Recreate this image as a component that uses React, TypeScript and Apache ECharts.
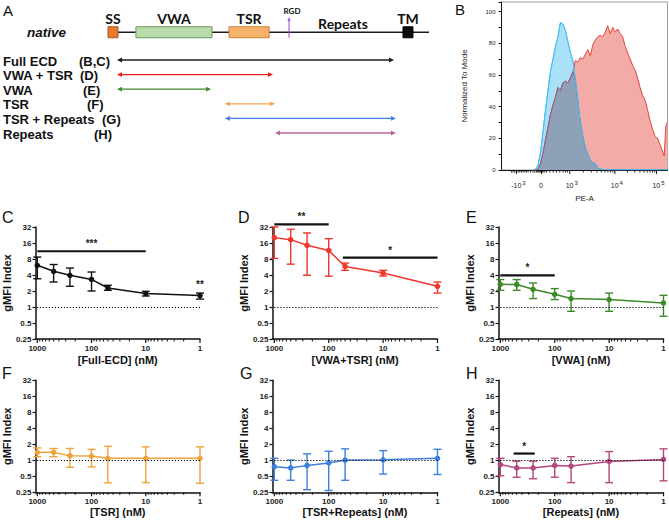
import { useEffect, useRef } from 'react';
import * as echarts from 'echarts';

const FONT = '"Liberation Sans", Arial, Helvetica, sans-serif';
const DOMAIN_FONT = 'Lato, "Open Sans", sans-serif';

// ---------- Panel A : domain schematic (schematic units 0-100 along the protein) ----------
const domainNames = ['SS', 'VWA', 'TSR', 'TM'];
const domainStart = [0, 8.7, 37.7, 91.9];
const domainEnd = [3.1, 32.4, 50.2, 95.0];
const backboneExtent = [3.1, 100];
const rgdPosition = [56.4];
const constructNames = ['Full ECD', 'VWA + TSR', 'VWA', 'TSR', 'TSR + Repeats', 'Repeats'];
const constructPanels = ['(B,C)', '(D)', '(E)', '(F)', '(G)', '(H)'];
const constructStart = [2.8, 2.8, 2.8, 36.4, 36.4, 52.0];
const constructEnd = [89.1, 51.4, 32.1, 52.0, 89.7, 89.7];

// ---------- Panel B : PE-A histogram (display channel 0-1000) ----------
const peChannel = [190, 205, 220, 235, 250, 265, 280, 295, 310, 325, 340, 355, 370, 385, 400, 415, 430, 445, 460, 475, 490, 505, 520, 535, 550, 565, 580, 595, 610, 625, 640, 655, 670, 685, 700, 715, 730, 745, 760, 775, 790, 805, 820, 835, 850, 865, 880, 895, 910, 925, 940, 955, 970, 980, 990, 1000];
const isotypeCount = [0, 0.5, 3, 11, 24, 38, 50, 62, 70, 78, 84, 93, 92, 88, 81, 74, 69, 57, 43, 30, 21, 14, 10, 6, 4.5, 4, 1, 0.5, 0.3, 0.2, 0.2, 0.2, 0.2, 0.2, 0.2, 0.2, 0.2, 0.2, 0.2, 0.2, 0.2, 0.2, 0.2, 0.2, 0.2, 0.2, 0.2, 0.2, 0.2, 0.2, 0.2, 0.2, 0.2, 0.2, 0.2, 0.2];
const fullEcdCount = [0, 0, 0.5, 4, 11, 19, 27, 35, 41, 46, 52, 50, 55, 56, 55, 58, 62, 69, 68, 71, 70, 73, 76, 72, 79, 82, 84, 85, 84, 87, 91, 86, 90, 87, 89, 86, 84, 78, 74, 70, 66, 63, 58, 52, 47, 44, 38, 31, 26, 21, 20, 16, 12, 9, 28, 30];
const peTickChannel = [90, 241, 411, 683, 934];
const peTickBase = ['-10', '0', '10', '10', '10'];
const peTickExponent = ['3', '', '3', '4', '5'];
const peMinorChannel = [60, 70, 80, 100, 110, 120, 130, 140, 150, 160, 175, 190, 200, 210, 218, 225, 231, 236, 246, 251, 260, 271, 291, 311, 331, 351, 371, 385, 397, 493, 541, 575, 601, 623, 641, 657, 671, 759, 803, 834, 858, 878, 895, 910, 923];

// ---------- Panels C-H : gMFI index vs concentration ----------
const concentrations = [1000, 500, 250, 100, 50, 10, 1];
const concMajorTicks = [1, 10, 100, 1000];
const concMinorTicks = [2, 3, 4, 5, 6, 7, 8, 9, 20, 30, 40, 50, 60, 70, 80, 90, 200, 300, 400, 500, 600, 700, 800, 900];

const fullEcdMean = [6.1, 4.7, 3.95, 3.3, 2.28, 1.79, 1.64];
const fullEcdLow = [3.4, 2.95, 2.45, 2.0, 2.06, 1.61, 1.41];
const fullEcdHigh = [8.7, 6.3, 5.4, 4.55, 2.56, 1.97, 1.83];
const fullEcdSig: [number, number, number, string][] = [[1000, 10, 11.2, '***'], [1, 1, 1.95, '**']];

const vwaTsrMean = [20.2, 18.5, 14.5, 11.6, 5.8, 4.36, 2.45];
const vwaTsrLow = [8.2, 6.4, 3.95, 3.8, 4.9, 3.83, 1.83];
const vwaTsrHigh = [32, 29, 24.7, 19.3, 6.7, 4.9, 2.95];
const vwaTsrSig: [number, number, number, string][] = [[1000, 100, 36, '**'], [55, 1, 8.5, '*']];

const vwaMean = [2.67, 2.65, 2.15, 1.73, 1.44, 1.38, 1.19];
const vwaLow = [2.06, 2.06, 1.44, 1.38, 0.83, 0.83, 0.67];
const vwaHigh = [3.28, 3.28, 2.83, 2.22, 2.0, 1.83, 1.66];
const vwaSig: [number, number, number, string][] = [[1000, 100, 3.95, '*']];

const tsrMean = [1.41, 1.41, 1.22, 1.2, 1.09, 1.09, 1.09];
const tsrLow = [1.17, 1.17, 0.74, 0.75, 0.376, 0.38, 0.37];
const tsrHigh = [1.71, 1.67, 1.67, 1.61, 1.83, 1.79, 1.79];
const tsrSig: [number, number, number, string][] = [];

const tsrRepeatsMean = [0.76, 0.72, 0.8, 0.89, 1.01, 1.02, 1.09];
const tsrRepeatsLow = [0.42, 0.42, 0.28, 0.27, 0.42, 0.55, 0.54];
const tsrRepeatsHigh = [1.09, 1.01, 1.32, 1.48, 1.64, 1.52, 1.61];
const tsrRepeatsSig: [number, number, number, string][] = [];

const repeatsMean = [0.83, 0.72, 0.72, 0.8, 0.78, 0.95, 1.04];
const repeatsLow = [0.51, 0.48, 0.45, 0.48, 0.38, 0.38, 0.41];
const repeatsHigh = [1.09, 0.96, 0.96, 1.09, 1.17, 1.46, 1.64];
const repeatsSig: [number, number, number, string][] = [[569, 233, 1.34, '*']];

function buildOption() {
  const grid: any[] = [];
  const xAxis: any[] = [];
  const yAxis: any[] = [];
  const series: any[] = [];
  const graphic: any[] = [];

  // ================= Panel A =================
  const rowPx = 14.6;
  const nativeRow = -1.9;
  grid.push({ left: 108, top: 60 - 2 * rowPx, width: 321, height: 8 * rowPx });
  xAxis.push({ gridIndex: 0, type: 'value', min: 0, max: 100, show: false, splitLine: { show: false } });
  yAxis.push({ gridIndex: 0, type: 'value', min: -2, max: 6, inverse: true, show: false, splitLine: { show: false } });

  series.push({
    type: 'custom', xAxisIndex: 0, yAxisIndex: 0, silent: true, clip: false,
    data: [[backboneExtent[0], backboneExtent[1], nativeRow]],
    encode: { x: [0, 1], y: 2 },
    renderItem: (_p: any, api: any) => {
      const a = api.coord([api.value(0), api.value(2)]);
      const b = api.coord([api.value(1), api.value(2)]);
      return { type: 'line', shape: { x1: a[0], y1: a[1], x2: b[0], y2: b[1] }, style: { stroke: '#1a1a1a', lineWidth: 1.4 } };
    },
  });

  const domainFill = ['#e8792f', '#b9dcaa', '#f6b16b', '#0a0a0a'];
  const domainStroke = ['#a9541c', '#6b9a5d', '#c98236', '#000000'];
  series.push({
    type: 'custom', xAxisIndex: 0, yAxisIndex: 0, silent: true, clip: false,
    data: domainNames.map((_, i) => [domainStart[i], domainEnd[i], nativeRow]),
    encode: { x: [0, 1], y: 2 },
    renderItem: (p: any, api: any) => {
      const i = p.dataIndex;
      const a = api.coord([api.value(0), api.value(2)]);
      const b = api.coord([api.value(1), api.value(2)]);
      const h = 11;
      return {
        type: 'group',
        children: [
          { type: 'rect', shape: { x: a[0], y: a[1] - h / 2, width: b[0] - a[0], height: h }, style: { fill: domainFill[i], stroke: domainStroke[i], lineWidth: 1 } },
          { type: 'text', x: (a[0] + b[0]) / 2, y: a[1] - h / 2 - 1.5, style: { text: domainNames[i], fill: '#111', fontSize: 14, fontWeight: 'bold', fontFamily: DOMAIN_FONT, align: 'center', verticalAlign: 'bottom' } },
        ],
      };
    },
  });

  series.push({
    type: 'custom', xAxisIndex: 0, yAxisIndex: 0, silent: true, clip: false,
    data: rgdPosition.map((v) => [v, nativeRow]),
    renderItem: (_p: any, api: any) => {
      const c = api.coord([api.value(0), api.value(1)]);
      const x = c[0];
      return {
        type: 'group',
        children: [
          { type: 'line', shape: { x1: x, y1: c[1] + 5.5, x2: x, y2: c[1] - 12 }, style: { stroke: '#9b45d6', lineWidth: 1 } },
          { type: 'polygon', shape: { points: [[x, c[1] - 15], [x - 1.6, c[1] - 11.5], [x + 1.6, c[1] - 11.5]] }, style: { fill: '#9b45d6' } },
          { type: 'text', x: x + 3, y: c[1] - 17.5, style: { text: 'RGD', fill: '#111', fontSize: 8, fontWeight: 'bold', fontFamily: DOMAIN_FONT, align: 'center', verticalAlign: 'bottom' } },
        ],
      };
    },
  });

  const arrowColors = ['#1e1e1e', '#f01d1d', '#3d8a2c', '#f2a650', '#3f80e4', '#b8679a'];
  series.push({
    type: 'custom', xAxisIndex: 0, yAxisIndex: 0, silent: true, clip: false,
    data: constructNames.map((_, i) => [constructStart[i], constructEnd[i], i]),
    encode: { x: [0, 1], y: 2 },
    renderItem: (p: any, api: any) => {
      const col = arrowColors[p.dataIndex];
      const a = api.coord([api.value(0), api.value(2)]);
      const b = api.coord([api.value(1), api.value(2)]);
      const y = a[1];
      const L = 5, W = 2.4;
      return {
        type: 'group',
        children: [
          { type: 'line', shape: { x1: a[0] + 2, y1: y, x2: b[0] - 2, y2: y }, style: { stroke: col, lineWidth: 1.3 } },
          { type: 'polygon', shape: { points: [[a[0], y], [a[0] + L, y - W], [a[0] + L, y + W]] }, style: { fill: col } },
          { type: 'polygon', shape: { points: [[b[0], y], [b[0] - L, y - W], [b[0] - L, y + W]] }, style: { fill: col } },
        ],
      };
    },
  });

  // left labels of panel A
  const panelLabelX = [79, 80, 83, 87, 102, 94];
  constructNames.forEach((n, i) => {
    const y = 60 + i * rowPx + 1;
    graphic.push({ type: 'text', x: 3, y, style: { text: n, fill: '#111', fontSize: 13, fontWeight: 'bold', fontFamily: FONT, align: 'left', verticalAlign: 'middle' } });
    graphic.push({ type: 'text', x: panelLabelX[i], y, style: { text: constructPanels[i], fill: '#111', fontSize: 13, fontWeight: 'bold', fontFamily: FONT, align: 'left', verticalAlign: 'middle' } });
  });
  graphic.push({ type: 'text', x: 27, y: 32.5, style: { text: 'native', fill: '#111', fontSize: 13.5, fontWeight: 'bold', fontStyle: 'italic', fontFamily: FONT, align: 'left', verticalAlign: 'middle' } });
  graphic.push({ type: 'text', x: 343, y: 23.5, style: { text: 'Repeats', fill: '#111', fontSize: 14, fontWeight: 'bold', fontFamily: DOMAIN_FONT, align: 'center', verticalAlign: 'middle' } });

  // ================= Panel B =================
  grid.push({ left: 501.5, top: 2, width: 166, height: 168, show: true, borderColor: '#a0a0a0', borderWidth: 1, backgroundColor: 'transparent' });
  xAxis.push({
    gridIndex: 1, type: 'value', min: 0, max: 1000,
    axisLine: { show: true, onZero: false, lineStyle: { color: '#111', width: 1 } },
    axisTick: { show: false }, axisLabel: { show: false }, splitLine: { show: false },
    name: 'PE-A', nameLocation: 'middle', nameGap: 24,
    nameTextStyle: { fontSize: 8, color: '#222', fontFamily: FONT },
  });
  yAxis.push({
    gridIndex: 1, type: 'value', min: 0, max: 106, interval: 10,
    axisLine: { show: true, lineStyle: { color: '#111', width: 1 } },
    axisTick: { show: true, length: 3, lineStyle: { color: '#111', width: 1 } },
    axisLabel: { fontSize: 6, color: '#222', margin: 6, fontFamily: FONT, formatter: (v: number) => (v % 20 === 0 && v <= 100 ? String(v) : '') },
    splitLine: { show: false },
    name: 'Normalized To Mode', nameLocation: 'middle', nameGap: 33, nameRotate: 90,
    nameTextStyle: { fontSize: 8, color: '#222', fontFamily: FONT },
  });
  const zip = (xs: number[], ys: number[]) => xs.map((x, i) => [x, ys[i]]);
  series.push({
    type: 'line', xAxisIndex: 1, yAxisIndex: 1, data: zip(peChannel, fullEcdCount), symbol: 'none', silent: true,
    lineStyle: { color: '#e6453b', width: 1 }, areaStyle: { color: '#f3aba8', opacity: 1 },
  });
  series.push({
    type: 'line', xAxisIndex: 1, yAxisIndex: 1, data: zip(peChannel, isotypeCount), symbol: 'none', silent: true,
    lineStyle: { color: '#48bff0', width: 1 }, areaStyle: { color: '#a9e2f8', opacity: 1 },
  });
  series.push({
    type: 'line', xAxisIndex: 1, yAxisIndex: 1, silent: true, symbol: 'none',
    data: peChannel.map((x, i) => [x, Math.min(isotypeCount[i], fullEcdCount[i])]),
    lineStyle: { color: '#7f6a92', width: 1 }, areaStyle: { color: '#8fa1b9', opacity: 1 },
  });
  series.push({
    type: 'line', xAxisIndex: 1, yAxisIndex: 1, data: zip(peChannel, isotypeCount), symbol: 'none', silent: true,
    lineStyle: { color: '#48bff0', width: 1 },
  });
  series.push({
    type: 'custom', xAxisIndex: 1, yAxisIndex: 1, silent: true, clip: false,
    data: peTickChannel.map((c) => [c, 0]),
    renderItem: (p: any, api: any) => {
      const c = api.coord([api.value(0), 0]);
      const y0 = c[1];
      const i = p.dataIndex;
      const txt = peTickExponent[i] ? `{b|${peTickBase[i]}}{s|${peTickExponent[i]}}` : `{b|${peTickBase[i]}}`;
      return {
        type: 'group',
        children: [
          { type: 'line', shape: { x1: c[0], y1: y0, x2: c[0], y2: y0 + 4 }, style: { stroke: '#111', lineWidth: 1 } },
          {
            type: 'text', x: c[0] + (peTickExponent[i] ? 2 : 0), y: y0 + 9,
            style: {
              text: txt, fill: '#222', fontFamily: FONT, align: 'center', verticalAlign: 'top',
              rich: {
                b: { fontSize: 7, fontFamily: FONT, fill: '#222', padding: [3, 1, 0, 0] },
                s: { fontSize: 6, fontFamily: FONT, fill: '#222', padding: [0, 0, 3, 0] },
              },
            },
          },
        ],
      };
    },
  });
  series.push({
    type: 'custom', xAxisIndex: 1, yAxisIndex: 1, silent: true, clip: false,
    data: peMinorChannel.map((c) => [c, 0]),
    renderItem: (_p: any, api: any) => {
      const c = api.coord([api.value(0), 0]);
      return { type: 'line', shape: { x1: c[0], y1: c[1], x2: c[0], y2: c[1] + 2.5 }, style: { stroke: '#111', lineWidth: 0.9 } };
    },
  });

  // ================= Panels C-H =================
  const panels = [
    { title: '[Full-ECD] (nM)', mean: fullEcdMean, low: fullEcdLow, high: fullEcdHigh, sig: fullEcdSig, color: '#111111', left: 35, top: 227, gap: 15 },
    { title: '[VWA+TSR] (nM)', mean: vwaTsrMean, low: vwaTsrLow, high: vwaTsrHigh, sig: vwaTsrSig, color: '#f2362b', left: 272.5, top: 227, gap: 15 },
    { title: '[VWA] (nM)', mean: vwaMean, low: vwaLow, high: vwaHigh, sig: vwaSig, color: '#3b8a2a', left: 498.5, top: 227, gap: 15 },
    { title: '[TSR] (nM)', mean: tsrMean, low: tsrLow, high: tsrHigh, sig: tsrSig, color: '#f0a23c', left: 35, top: 380.3, gap: 12 },
    { title: '[TSR+Repeats] (nM)', mean: tsrRepeatsMean, low: tsrRepeatsLow, high: tsrRepeatsHigh, sig: tsrRepeatsSig, color: '#3d7fdc', left: 272.5, top: 380.3, gap: 12 },
    { title: '[Repeats] (nM)', mean: repeatsMean, low: repeatsLow, high: repeatsHigh, sig: repeatsSig, color: '#b4457e', left: 498.5, top: 380.3, gap: 12 },
  ];

  panels.forEach((pn, k) => {
    const gi = k + 2;
    grid.push({ left: pn.left, top: pn.top, width: 165, height: 112 });
    xAxis.push({
      gridIndex: gi, type: 'log', logBase: 10, min: 1, max: 1080, inverse: true,
      axisLine: { show: true, onZero: false, lineStyle: { color: '#111', width: 1.5 } },
      axisTick: { show: false }, splitLine: { show: false },
      axisLabel: {
        fontSize: 8, fontWeight: 'bold', color: '#222', margin: 5, fontFamily: FONT,
        formatter: (v: number) => {
          const l = Math.log10(v);
          return Math.abs(l - Math.round(l)) < 1e-6 ? String(Math.round(v)) : '';
        },
      },
      name: pn.title, nameLocation: 'middle', nameGap: pn.gap,
      nameTextStyle: { fontSize: 11, fontWeight: 'bold', color: '#111', fontFamily: FONT },
    });
    yAxis.push({
      gridIndex: gi, type: 'log', logBase: 2, min: 0.25, max: 32,
      axisLine: { show: true, onZero: false, lineStyle: { color: '#111', width: 1.5 } },
      axisTick: { show: true, length: 3, lineStyle: { color: '#111', width: 1.2 } },
      splitLine: { show: false },
      axisLabel: { fontSize: 8, fontWeight: 'bold', color: '#222', margin: 4, fontFamily: FONT, formatter: (v: number) => String(parseFloat(Number(v).toPrecision(4))) },
      name: 'gMFI Index', nameLocation: 'middle', nameGap: 15.5, nameRotate: 90,
      nameTextStyle: { fontSize: 11, fontWeight: 'bold', color: '#111', fontFamily: FONT },
    });

    // x ticks (major + minor)
    series.push({
      type: 'custom', xAxisIndex: gi, yAxisIndex: gi, silent: true, clip: false,
      data: concMajorTicks.map((v) => [v, 0.25]),
      renderItem: (_p: any, api: any) => {
        const c = api.coord([api.value(0), 0.25]);
        return { type: 'line', shape: { x1: c[0], y1: c[1], x2: c[0], y2: c[1] + 4 }, style: { stroke: '#111', lineWidth: 1.2 } };
      },
    });
    series.push({
      type: 'custom', xAxisIndex: gi, yAxisIndex: gi, silent: true, clip: false,
      data: concMinorTicks.map((v) => [v, 0.25]),
      renderItem: (_p: any, api: any) => {
        const c = api.coord([api.value(0), 0.25]);
        return { type: 'line', shape: { x1: c[0], y1: c[1], x2: c[0], y2: c[1] + 2.5 }, style: { stroke: '#111', lineWidth: 1 } };
      },
    });

    // error bars
    series.push({
      type: 'custom', xAxisIndex: gi, yAxisIndex: gi, silent: true, clip: false,
      data: concentrations.map((c, i) => [c, pn.low[i], pn.high[i]]),
      encode: { x: 0, y: [1, 2] },
      renderItem: (_p: any, api: any) => {
        const top = api.coord([api.value(0), api.value(2)]);
        const bot = api.coord([api.value(0), api.value(1)]);
        const w = 4;
        const st = { stroke: pn.color, lineWidth: 1.4 };
        return {
          type: 'group',
          children: [
            { type: 'line', shape: { x1: top[0], y1: top[1], x2: bot[0], y2: bot[1] }, style: st },
            { type: 'line', shape: { x1: top[0] - w, y1: top[1], x2: top[0] + w, y2: top[1] }, style: st },
            { type: 'line', shape: { x1: bot[0] - w, y1: bot[1], x2: bot[0] + w, y2: bot[1] }, style: st },
          ],
        };
      },
    });

    // mean line
    series.push({
      type: 'line', xAxisIndex: gi, yAxisIndex: gi, silent: true,
      data: zip(concentrations, pn.mean),
      symbol: 'circle', symbolSize: 5.5,
      itemStyle: { color: pn.color },
      lineStyle: { color: pn.color, width: 1.5 },
      markLine: {
        silent: true, symbol: ['none', 'none'], label: { show: false },
        lineStyle: { color: '#000', type: [1.2, 1.8], width: 1.1 },
        data: [{ yAxis: 1 }],
      },
    });

    // significance bars
    if (pn.sig.length) {
      series.push({
        type: 'custom', xAxisIndex: gi, yAxisIndex: gi, silent: true, clip: false,
        data: pn.sig.map((s) => [s[0], s[1], s[2]]),
        encode: { x: [0, 1], y: 2 },
        renderItem: (p: any, api: any) => {
          const a = api.coord([api.value(0), api.value(2)]);
          const b = api.coord([api.value(1), api.value(2)]);
          const children: any[] = [];
          if (Math.abs(b[0] - a[0]) > 0.5) {
            children.push({ type: 'line', shape: { x1: a[0], y1: a[1], x2: b[0], y2: b[1] }, style: { stroke: '#111', lineWidth: 2.2 } });
          }
          children.push({ type: 'text', x: (a[0] + b[0]) / 2, y: a[1] - 2.5, style: { text: pn.sig[p.dataIndex][3], fill: '#222', fontSize: 10, fontWeight: 'bold', fontFamily: FONT, align: 'center', verticalAlign: 'bottom' } });
          return { type: 'group', children };
        },
      });
    }
  });

  // panel letters
  const letters: [string, number, number, number][] = [
    ['A', 3, 10, 15], ['B', 455, 9, 15], ['C', 2, 217, 16], ['D', 238, 217, 16], ['E', 466, 217, 16],
    ['F', 2, 373, 16], ['G', 240, 373, 16], ['H', 466, 373, 16],
  ];
  letters.forEach(([t, x, y, s]) => {
    graphic.push({ type: 'text', x, y, style: { text: t, fill: '#111', fontSize: s, fontFamily: FONT, align: 'left', verticalAlign: 'middle' } });
  });

  return { animation: false, backgroundColor: '#ffffff', textStyle: { fontFamily: FONT }, grid, xAxis, yAxis, series, graphic };
}

export default function App() {
  const ref = useRef<HTMLDivElement>(null);
  useEffect(() => {
    if (!ref.current) return;
    const chart = echarts.init(ref.current, undefined, { renderer: 'svg' });
    chart.setOption(buildOption() as any);
    return () => chart.dispose();
  }, []);
  return <div ref={ref} style={{ position: 'fixed', left: 0, top: 0, width: 669, height: 521, background: '#fff' }} />;
}
